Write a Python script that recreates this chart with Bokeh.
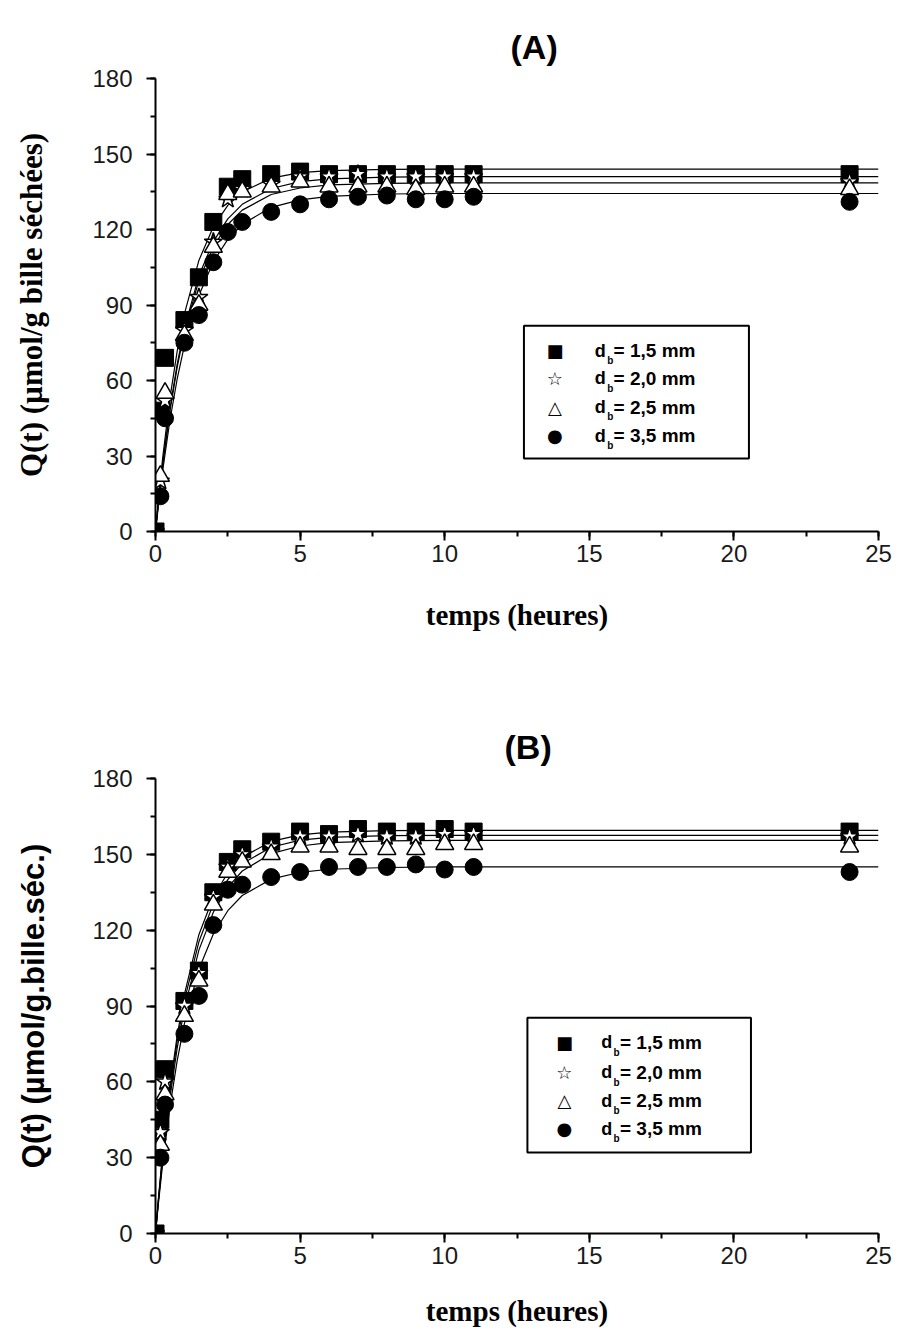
from bokeh.plotting import figure
from bokeh.layouts import column
from bokeh.models import Label, BoxAnnotation, SingleIntervalTicker
from bokeh.embed import file_html
from bokeh.resources import INLINE

# ---------------- data ----------------
t_obs = [0, 0.17, 0.33, 1, 1.5, 2, 2.5, 3, 4, 5, 6, 7, 8, 9, 10, 11, 24]

# Panel A (µmol/g bille séchées)
a_15 = [0, 48, 69, 84, 101, 123, 137, 140, 142, 143, 142, 142, 142, 142, 142, 142, 142]
a_20 = [0, 20, 52, 80, 93, 115, 132, 136, 138, 141, 141, 142, 141, 141, 141, 141, 139]
a_25 = [0, 22, 55, 78, 90, 113, 134, 135, 137, 139, 137, 137, 137, 136, 137, 137, 136]
a_35 = [0, 14, 45, 75, 86, 107, 119, 123, 127, 130, 132, 133, 133.5, 132, 132, 133, 131]

# Panel B (µmol/g.bille.séc.)
b_15 = [0, 45, 65, 92, 104, 135, 147, 152, 155, 159, 158, 160, 159, 159, 160, 159, 159]
b_20 = [0, 40, 60, 90, 103, 133, 145, 150, 153, 157, 157, 158, 157, 157, 158, 158, 157]
b_25 = [0, 35, 55, 86, 100, 130, 143, 147, 150, 153, 153, 152, 152, 152, 154, 154, 153]
b_35 = [0, 30, 51, 79, 94, 122, 136, 138, 141, 143, 145, 145, 145, 146, 144, 145, 143]

# fitted curves
t_fit = [0, 0.1, 0.25, 0.5, 0.75, 1, 1.5, 2, 2.5, 3, 4, 5, 6, 8, 10, 25]
fa_15 = [0, 12.7, 29.5, 53.1, 71.7, 86.5, 107.7, 121.1, 129.6, 134.9, 140.4, 142.6, 143.4, 143.9, 144, 144]
fa_20 = [0, 11.5, 27.0, 48.8, 66.5, 80.7, 101.6, 115.2, 124.2, 130.0, 136.3, 139.0, 140.1, 140.8, 141, 141]
fa_25 = [0, 11.3, 26.5, 47.9, 65.3, 79.3, 99.8, 113.2, 122.0, 127.7, 133.9, 136.5, 137.7, 138.3, 138.5, 138.5]
fa_35 = [0, 10.3, 24.3, 44.3, 60.6, 74.0, 93.8, 107.2, 116.1, 122.1, 128.8, 131.8, 133.2, 134.1, 134.3, 134.3]
fb_15 = [0, 13.7, 32.1, 57.8, 78.3, 94.6, 118.2, 133.1, 142.7, 148.8, 155.1, 157.7, 158.8, 159.4, 159.5, 159.5]
fb_20 = [0, 13.3, 31.1, 56.1, 76.1, 92.2, 115.4, 130.4, 140.0, 146.3, 152.8, 155.6, 156.7, 157.4, 157.5, 157.5]
fb_25 = [0, 12.7, 29.8, 53.8, 73.3, 89.0, 112.1, 127.1, 136.9, 143.4, 150.3, 153.3, 154.6, 155.3, 155.5, 155.5]
fb_35 = [0, 11.8, 27.8, 50.2, 68.4, 83.0, 104.5, 118.5, 127.7, 133.7, 140.2, 142.9, 144.1, 144.8, 145, 145]

legend_values = ["= 1,5 mm", "= 2,0 mm", "= 2,5 mm", "= 3,5 mm"]
legend_symbols = ["\u25A0", "\u2606", "\u25B3", "\u25CF"]

x_label = "temps (heures)"
y_label_a = "Q(t) (\u00B5mol/g bille s\u00E9ch\u00E9es)"
y_label_b = "Q(t) (\u00B5mol/g.bille.s\u00E9c.)"

SANS = "Liberation Sans"
SERIF = "Liberation Serif"


def make_panel(title, ylab, ylab_font, obs, fits, height, border_top, border_bottom,
               border_left, border_right, title_offset, title_standoff, xlab_standoff,
               ylab_standoff, leg):
    p = figure(width=903, height=height, x_range=(0, 25), y_range=(0, 180),
               output_backend="svg", toolbar_location=None,
               min_border_left=border_left, min_border_right=border_right,
               min_border_top=border_top, min_border_bottom=border_bottom,
               title=title)
    p.title.text_font = SANS
    p.title.text_font_size = "34px"
    p.title.text_font_style = "bold"
    p.title.text_color = "black"
    p.title.align = "left"
    p.title.offset = title_offset
    p.title.standoff = title_standoff
    p.outline_line_color = None
    p.grid.visible = False
    p.background_fill_color = "white"
    p.border_fill_color = "white"

    p.xaxis.ticker = SingleIntervalTicker(interval=5, num_minor_ticks=2)
    p.yaxis.ticker = SingleIntervalTicker(interval=30, num_minor_ticks=2)
    for ax in (p.xaxis[0], p.yaxis[0]):
        ax.axis_line_width = 2
        ax.axis_line_color = "black"
        ax.major_tick_line_width = 2
        ax.minor_tick_line_width = 2
        ax.major_tick_in = 0
        ax.major_tick_out = 9
        ax.minor_tick_in = 0
        ax.minor_tick_out = 5
        ax.major_label_text_font = SANS
        ax.major_label_text_font_size = "24px"
        ax.major_label_text_color = "#1a1a1a"
    p.yaxis.major_label_standoff = 14
    p.xaxis.major_label_standoff = 4

    p.xaxis.axis_label = x_label
    p.xaxis.axis_label_text_font = SERIF
    p.xaxis.axis_label_text_font_style = "bold"
    p.xaxis.axis_label_text_font_size = "29px"
    p.xaxis.axis_label_standoff = xlab_standoff
    p.xaxis.axis_label_text_color = "black"

    p.yaxis.axis_label = ylab
    p.yaxis.axis_label_text_font = ylab_font
    p.yaxis.axis_label_text_font_style = "bold"
    p.yaxis.axis_label_text_font_size = "31px"
    p.yaxis.axis_label_standoff = ylab_standoff
    p.yaxis.axis_label_text_color = "black"

    # fitted lines
    for f in fits:
        p.line(t_fit, f, line_color="black", line_width=1.2)

    s15, s20, s25, s35 = obs
    p.scatter(t_obs, s15, marker="square", size=17, fill_color="black", line_color="black")
    p.scatter(t_obs, s20, marker="star", size=19, fill_color="white", line_color="black", line_width=1.5)
    p.scatter(t_obs, s25, marker="triangle", size=18, fill_color="white", line_color="black", line_width=1.5)
    p.scatter(t_obs, s35, marker="circle", size=17, fill_color="black", line_color="black")

    # legend box with subscripted labels
    (bl, br, bt, bb, rows, sx, dx, bx, ex) = leg
    p.add_layout(BoxAnnotation(left=bl, right=br, top=bt, bottom=bb,
                               fill_alpha=0, line_color="black", line_alpha=1.0, line_width=2))
    for sym, val, yy in zip(legend_symbols, legend_values, rows):
        p.add_layout(Label(x=sx, y=yy, text=sym, text_align="center", text_baseline="middle",
                           text_font="DejaVu Sans", text_font_size="18px", text_color="black"))
        p.add_layout(Label(x=dx, y=yy, text="d", text_align="left", text_baseline="middle",
                           text_font=SANS, text_font_style="bold", text_font_size="18px",
                           text_color="black"))
        p.add_layout(Label(x=bx, y=yy - 3.8, text="b", text_align="left", text_baseline="middle",
                           text_font=SANS, text_font_style="bold", text_font_size="10px",
                           text_color="black"))
        p.add_layout(Label(x=ex, y=yy, text=val, text_align="left", text_baseline="middle",
                           text_font=SANS, text_font_style="bold", text_font_size="19px",
                           text_color="black"))
    return p


leg_a = (12.74, 20.52, 81.8, 29.0, [71.9, 60.8, 49.3, 38.1], 13.81, 15.19, 15.62, 15.84)
leg_b = (12.86, 20.59, 85.4, 32.0, [75.6, 63.7, 52.6, 41.5], 14.14, 15.41, 15.84, 16.06)

pA = make_panel("(A)", y_label_a, SERIF, (a_15, a_20, a_25, a_35),
                (fa_15, fa_20, fa_25, fa_35), 668, 78, 137, 152, 25, 355, 26, 34, 40, leg_a)
pB = make_panel("(B)", y_label_b, SANS, (b_15, b_20, b_25, b_35),
                (fb_15, fb_20, fb_25, fb_35), 669, 110, 104, 155, 23, 349, 25, 28, 38, leg_b)

layout = column(pA, pB, spacing=0)
open("out.html", "w").write(file_html(layout, INLINE))
